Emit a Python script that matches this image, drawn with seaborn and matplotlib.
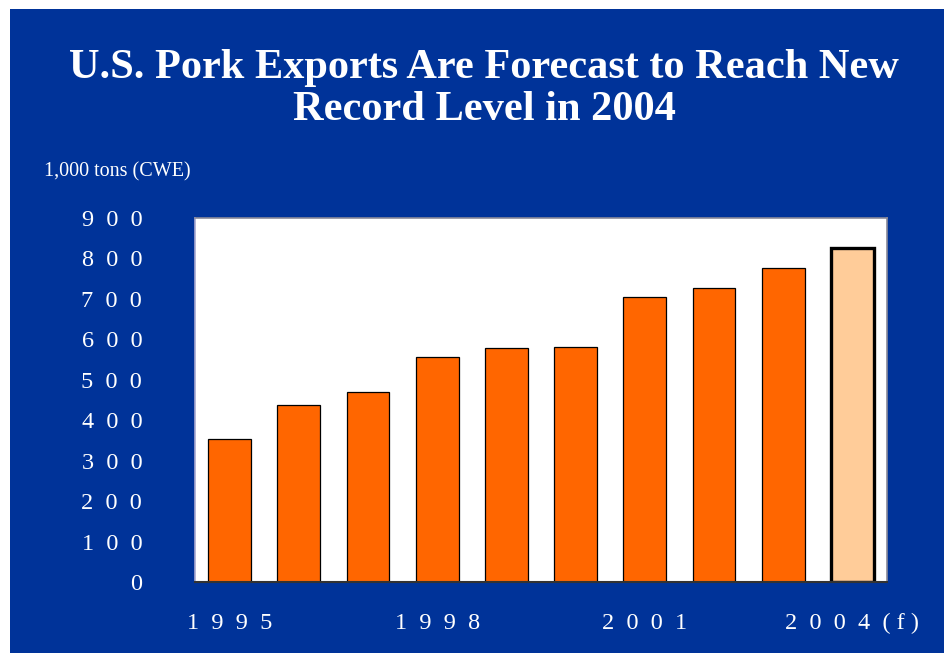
import matplotlib
matplotlib.use("Agg")
import matplotlib.pyplot as plt
import seaborn as sns
import pandas as pd
from matplotlib.patches import Rectangle

years = ["1995", "1996", "1997", "1998", "1999", "2000", "2001", "2002", "2003", "2004"]
exports = [354, 438, 471, 556, 579, 581, 704, 728, 776, 827]
bar_colors = ["#FF6600"] * 9 + ["#FFCC99"]
xtick_labels = ["1  9  9  5", "", "", "1  9  9  8", "", "", "2  0  0  1", "", "",
                "2  0  0  4  ( f )"]
ytick_values = [0, 100, 200, 300, 400, 500, 600, 700, 800, 900]
ytick_labels = ["0", "1  0  0", "2  0  0", "3  0  0", "4  0  0", "5  0  0",
                "6  0  0", "7  0  0", "8  0  0", "9  0  0"]

BLUE = "#003399"

sns.set_theme(style="white")
plt.rcParams["font.family"] = ["Liberation Serif", "DejaVu Serif"]

W, H = 944, 653
fig = plt.figure(figsize=(W / 100, H / 100), dpi=100, facecolor="white")
fig.patches.append(Rectangle((10 / W, 0), 1 - 10 / W, (H - 9) / H,
                             transform=fig.transFigure, facecolor=BLUE,
                             edgecolor="none", zorder=-10))

ax = fig.add_axes([195 / W, (H - 582) / H, (887 - 195) / W, (582 - 218) / H])
ax.set_facecolor("white")

df = pd.DataFrame({"year": years, "exports": exports})
sns.barplot(data=df, x="year", y="exports", hue="year", palette=bar_colors,
            legend=False, width=0.62, edgecolor="black", linewidth=0.9,
            saturation=1, ax=ax)
ax.patches[-1].set_linewidth(2.4)

ax.set_xlim(-0.5, len(years) - 0.5)
ax.set_ylim(0, 900)
ax.set_yticks(ytick_values)
ax.set_yticklabels(ytick_labels, color="white", fontsize=17.5)
ax.set_xticks(range(len(years)))
ax.set_xticklabels(xtick_labels, color="white", fontsize=17.5)
ax.tick_params(axis="y", length=0, pad=38)
ax.tick_params(axis="x", length=0, pad=22)
ax.set_xlabel("")
ax.set_ylabel("")

for side in ["top", "right"]:
    ax.spines[side].set_color("#8a8a9a")
    ax.spines[side].set_linewidth(1.2)
ax.spines["left"].set_color("#a8a8d0")
ax.spines["left"].set_linewidth(1.2)
ax.spines["bottom"].set_color("#333333")
ax.spines["bottom"].set_linewidth(1.5)

fig.text(44 / W, 1 - 172 / H, "1,000 tons (CWE)", color="white", fontsize=14.5,
         ha="left", va="center")
fig.text(484 / W, 1 - 89 / H,
         "U.S. Pork Exports Are Forecast to Reach New\nRecord Level in 2004",
         color="white", fontsize=30.5, fontweight="bold", ha="center", va="center",
         linespacing=1.17)

fig.savefig("out.png", dpi=100, facecolor="white")
